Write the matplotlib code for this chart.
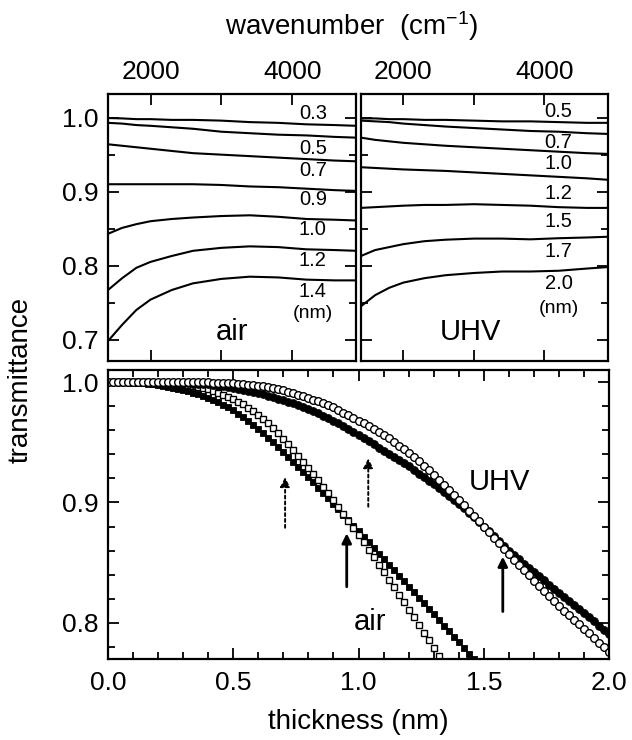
import numpy as np
import matplotlib
matplotlib.use("Agg")
import matplotlib.pyplot as plt
from matplotlib.ticker import MultipleLocator, FixedLocator

plt.rcParams['font.family'] = ['Liberation Sans', 'DejaVu Sans']
plt.rcParams['mathtext.fontset'] = 'custom'
plt.rcParams['mathtext.rm'] = 'Liberation Sans'
plt.rcParams['mathtext.default'] = 'regular'

# ---- top panels: transmittance spectra vs wavenumber (cm-1)
wavenumber = [1400, 1600, 1800, 2000, 2300, 2600, 3000, 3400, 3800, 4200, 4600, 4900]

air_labels = ['0.3', '0.5', '0.7', '0.9', '1.0', '1.2', '1.4']
air_spectra = [
    [0.9995, 0.999, 0.998, 0.998, 0.997, 0.997, 0.996, 0.994, 0.993, 0.991, 0.990, 0.989],
    [0.993, 0.992, 0.990, 0.989, 0.987, 0.985, 0.981, 0.979, 0.977, 0.976, 0.974, 0.973],
    [0.964, 0.962, 0.960, 0.958, 0.955, 0.952, 0.950, 0.948, 0.946, 0.944, 0.942, 0.941],
    [0.910, 0.910, 0.910, 0.910, 0.910, 0.910, 0.909, 0.907, 0.906, 0.904, 0.902, 0.901],
    [0.843, 0.851, 0.856, 0.860, 0.863, 0.865, 0.867, 0.868, 0.866, 0.863, 0.862, 0.861],
    [0.767, 0.783, 0.797, 0.805, 0.813, 0.820, 0.824, 0.826, 0.825, 0.822, 0.821, 0.820],
    [0.698, 0.720, 0.740, 0.754, 0.767, 0.776, 0.782, 0.785, 0.784, 0.781, 0.780, 0.780],
]

uhv_labels = ['0.5', '0.7', '1.0', '1.2', '1.5', '1.7', '2.0']
uhv_spectra = [
    [0.999, 0.999, 0.998, 0.998, 0.997, 0.997, 0.996, 0.995, 0.995, 0.994, 0.993, 0.993],
    [0.996, 0.995, 0.994, 0.992, 0.990, 0.988, 0.986, 0.984, 0.982, 0.981, 0.979, 0.978],
    [0.973, 0.970, 0.968, 0.966, 0.964, 0.962, 0.960, 0.958, 0.956, 0.954, 0.952, 0.951],
    [0.933, 0.932, 0.931, 0.930, 0.929, 0.928, 0.926, 0.924, 0.922, 0.920, 0.918, 0.916],
    [0.878, 0.879, 0.880, 0.881, 0.882, 0.882, 0.883, 0.882, 0.881, 0.879, 0.878, 0.878],
    [0.813, 0.821, 0.825, 0.829, 0.833, 0.835, 0.8365, 0.8365, 0.8355, 0.837, 0.838, 0.839],
    [0.745, 0.760, 0.770, 0.777, 0.783, 0.787, 0.790, 0.792, 0.792, 0.793, 0.796, 0.798],
]

# ---- bottom panel: transmittance vs thickness (nm), 0.02 nm steps
thickness = np.round(np.arange(101) * 0.02, 2)

air_filled = [
    1.0000, 1.0000, 0.9999, 0.9998, 0.9997, 0.9995, 0.9992, 0.9988, 0.9984, 0.9980,
    0.9975, 0.9968, 0.9961, 0.9953, 0.9944, 0.9935, 0.9924, 0.9912, 0.9899, 0.9885,
    0.9870, 0.9852, 0.9832, 0.9811, 0.9789, 0.9765, 0.9738, 0.9709, 0.9678, 0.9645,
    0.9610, 0.9574, 0.9536, 0.9498, 0.9459, 0.9420, 0.9379, 0.9337, 0.9295, 0.9253,
    0.9210, 0.9167, 0.9123, 0.9079, 0.9035, 0.8990, 0.8944, 0.8898, 0.8852, 0.8806,
    0.8760, 0.8714, 0.8668, 0.8622, 0.8576, 0.8530, 0.8484, 0.8438, 0.8392, 0.8346,
    0.8300, 0.8254, 0.8208, 0.8162, 0.8116, 0.8070, 0.8024, 0.7978, 0.7932, 0.7886,
    0.7840, 0.7793, 0.7745, 0.7697, 0.7649, 0.7600,
]
air_open = [
    1.0000, 1.0000, 1.0000, 1.0000, 1.0000, 1.0000, 0.9999, 0.9998, 0.9997, 0.9996,
    0.9995, 0.9993, 0.9990, 0.9987, 0.9984, 0.9980, 0.9974, 0.9967, 0.9959, 0.9950,
    0.9940, 0.9927, 0.9912, 0.9896, 0.9879, 0.9860, 0.9838, 0.9814, 0.9788, 0.9760,
    0.9730, 0.9694, 0.9656, 0.9616, 0.9574, 0.9530, 0.9484, 0.9436, 0.9388, 0.9339,
    0.9290, 0.9238, 0.9184, 0.9130, 0.9075, 0.9020, 0.8963, 0.8905, 0.8847, 0.8789,
    0.8730, 0.8669, 0.8607, 0.8545, 0.8483, 0.8420, 0.8358, 0.8296, 0.8234, 0.8172,
    0.8110, 0.8046, 0.7982, 0.7918, 0.7854, 0.7790, 0.7726, 0.7662, 0.7598,
]
uhv_filled = [
    1.0000, 1.0000, 1.0000, 1.0000, 1.0000, 1.0000, 0.9999, 0.9998, 0.9997, 0.9996,
    0.9995, 0.9994, 0.9993, 0.9992, 0.9991, 0.9990, 0.9988, 0.9986, 0.9984, 0.9982,
    0.9980, 0.9975, 0.9969, 0.9963, 0.9957, 0.9950, 0.9942, 0.9934, 0.9926, 0.9918,
    0.9910, 0.9898, 0.9886, 0.9874, 0.9862, 0.9850, 0.9836, 0.9822, 0.9808, 0.9794,
    0.9780, 0.9760, 0.9740, 0.9720, 0.9700, 0.9680, 0.9657, 0.9633, 0.9609, 0.9585,
    0.9560, 0.9534, 0.9508, 0.9482, 0.9456, 0.9430, 0.9404, 0.9378, 0.9352, 0.9326,
    0.9300, 0.9270, 0.9240, 0.9210, 0.9180, 0.9150, 0.9118, 0.9086, 0.9054, 0.9022,
    0.8990, 0.8952, 0.8914, 0.8876, 0.8838, 0.8800, 0.8760, 0.8720, 0.8680, 0.8640,
    0.8600, 0.8564, 0.8528, 0.8492, 0.8456, 0.8420, 0.8386, 0.8352, 0.8318, 0.8284,
    0.8250, 0.8216, 0.8182, 0.8148, 0.8114, 0.8080, 0.8046, 0.8012, 0.7978, 0.7944,
    0.7910,
]
uhv_open = [
    1.0000, 1.0000, 1.0000, 1.0000, 1.0000, 1.0000, 1.0000, 1.0000, 1.0000, 1.0000,
    1.0000, 1.0000, 1.0000, 1.0000, 1.0000, 1.0000, 1.0000, 0.9999, 0.9999, 0.9998,
    0.9998, 0.9996, 0.9995, 0.9993, 0.9991, 0.9990, 0.9987, 0.9983, 0.9979, 0.9975,
    0.9970, 0.9963, 0.9955, 0.9947, 0.9939, 0.9930, 0.9919, 0.9907, 0.9895, 0.9883,
    0.9870, 0.9855, 0.9839, 0.9823, 0.9807, 0.9790, 0.9769, 0.9747, 0.9725, 0.9703,
    0.9680, 0.9657, 0.9633, 0.9609, 0.9585, 0.9560, 0.9532, 0.9503, 0.9473, 0.9442,
    0.9410, 0.9376, 0.9341, 0.9305, 0.9268, 0.9230, 0.9190, 0.9149, 0.9107, 0.9064,
    0.9020, 0.8976, 0.8932, 0.8888, 0.8844, 0.8800, 0.8754, 0.8708, 0.8662, 0.8616,
    0.8570, 0.8526, 0.8482, 0.8438, 0.8394, 0.8350, 0.8308, 0.8266, 0.8224, 0.8182,
    0.8140, 0.8102, 0.8064, 0.8026, 0.7988, 0.7950, 0.7912, 0.7874, 0.7836, 0.7798,
    0.7760,
]

# arrows marking positions on the thickness curves: (x, y_start, y_tip)
dotted_arrows = [(0.707, 0.879, 0.921), (1.039, 0.8965, 0.9367)]
solid_arrows = [(0.953, 0.830, 0.8744), (1.576, 0.8094, 0.855)]

W, H = 632, 740
fig = plt.figure(figsize=(W / 100, H / 100), dpi=100)


def px_axes(x0, y0, x1, y1):
    return fig.add_axes([x0 / W, 1 - y1 / H, (x1 - x0) / W, (y1 - y0) / H])


ax_air = px_axes(108, 94, 356, 361)
ax_uhv = px_axes(361, 94, 608, 361)
ax_bot = px_axes(108, 370, 609, 659)

TICKFS = 19
for ax in (ax_air, ax_uhv, ax_bot):
    for s in ax.spines.values():
        s.set_linewidth(1.6)
    ax.tick_params(which='both', direction='in', top=True, right=True,
                   labelsize=TICKFS, width=1.3)
    ax.tick_params(which='major', length=8, pad=7)
    ax.tick_params(which='minor', length=5)

# top panels
for ax, spectra, labels, lab_x, lab_y, lab_nm, name, name_x in (
        (ax_air, air_spectra, air_labels, 4290,
         [1.005, 0.958, 0.929, 0.889, 0.849, 0.807, 0.765], 0.735, 'air', 3150),
        (ax_uhv, uhv_spectra, uhv_labels, 4200,
         [1.009, 0.967, 0.938, 0.898, 0.859, 0.819, 0.776], 0.742, 'UHV', 2950)):
    for curve in spectra:
        ax.plot(wavenumber, curve, color='black', lw=1.5)
    for lab, yy in zip(labels, lab_y):
        ax.text(lab_x, yy, lab, fontsize=14.5, ha='center', va='center')
    ax.text(lab_x, lab_nm, '(nm)', fontsize=14, ha='center', va='center')
    ax.text(name_x, 0.699, name, fontsize=21, ha='center', va='baseline')
    ax.set_xlim(1400, 4900)
    ax.set_ylim(0.671, 1.032)
    ax.xaxis.set_major_locator(FixedLocator([2000, 3000, 4000]))
    ax.set_xticklabels(['2000', '', '4000'])
    ax.tick_params(axis='x', labeltop=True, labelbottom=False)
    ax.yaxis.set_major_locator(MultipleLocator(0.1))
    ax.yaxis.set_minor_locator(MultipleLocator(0.05))

ax_air.yaxis.set_major_formatter(plt.FormatStrFormatter('%.1f'))
ax_uhv.tick_params(axis='y', labelleft=False)

# bottom panel
n_af = len(air_filled)
n_ao = len(air_open)
ax_bot.plot(thickness[:n_af], air_filled, ls='none', marker='s', ms=5.0,
            mfc='black', mec='black', mew=0.6)
ax_bot.plot(thickness[:n_ao], air_open, ls='none', marker='s', ms=4.8,
            mfc='white', mec='black', mew=1.0)
ax_bot.plot(thickness, uhv_filled, ls='none', marker='o', ms=5.6,
            mfc='black', mec='black', mew=0.6)
ax_bot.plot(thickness, uhv_open, ls='none', marker='o', ms=5.5,
            mfc='white', mec='black', mew=1.0)

for x, y0, y1 in dotted_arrows:
    ax_bot.annotate('', xy=(x, y1), xytext=(x, y0),
                    arrowprops=dict(arrowstyle='-|>', lw=1.4, ls=(0, (1.5, 1.5)),
                                    color='black', mutation_scale=14,
                                    shrinkA=0, shrinkB=0))
for x, y0, y1 in solid_arrows:
    ax_bot.annotate('', xy=(x, y1), xytext=(x, y0),
                    arrowprops=dict(arrowstyle='-|>', lw=2.0, color='black',
                                    mutation_scale=14, shrinkA=0, shrinkB=0))

ax_bot.text(1.561, 0.9104, 'UHV', fontsize=21, ha='center', va='baseline')
ax_bot.text(1.046, 0.794, 'air', fontsize=21, ha='center', va='baseline')

ax_bot.set_xlim(0, 2.0)
ax_bot.set_ylim(0.77, 1.01)
ax_bot.xaxis.set_major_locator(MultipleLocator(0.5))
ax_bot.xaxis.set_minor_locator(MultipleLocator(0.1))
ax_bot.yaxis.set_major_locator(MultipleLocator(0.1))
ax_bot.yaxis.set_minor_locator(MultipleLocator(0.02))
ax_bot.xaxis.set_major_formatter(plt.FormatStrFormatter('%.1f'))
ax_bot.yaxis.set_major_formatter(plt.FormatStrFormatter('%.1f'))
ax_bot.tick_params(axis='x', which='major', pad=9)

fig.text(352 / W, 1 - 26 / H, 'wavenumber  (cm$^{-1}$)', fontsize=20,
         ha='center', va='center')
fig.text(358 / W, 1 - 722 / H, 'thickness (nm)', fontsize=20,
         ha='center', va='center')
fig.text(21 / W, 1 - 380 / H, 'transmittance', fontsize=20, rotation=90,
         ha='center', va='center')

fig.savefig('out.png', dpi=100)
